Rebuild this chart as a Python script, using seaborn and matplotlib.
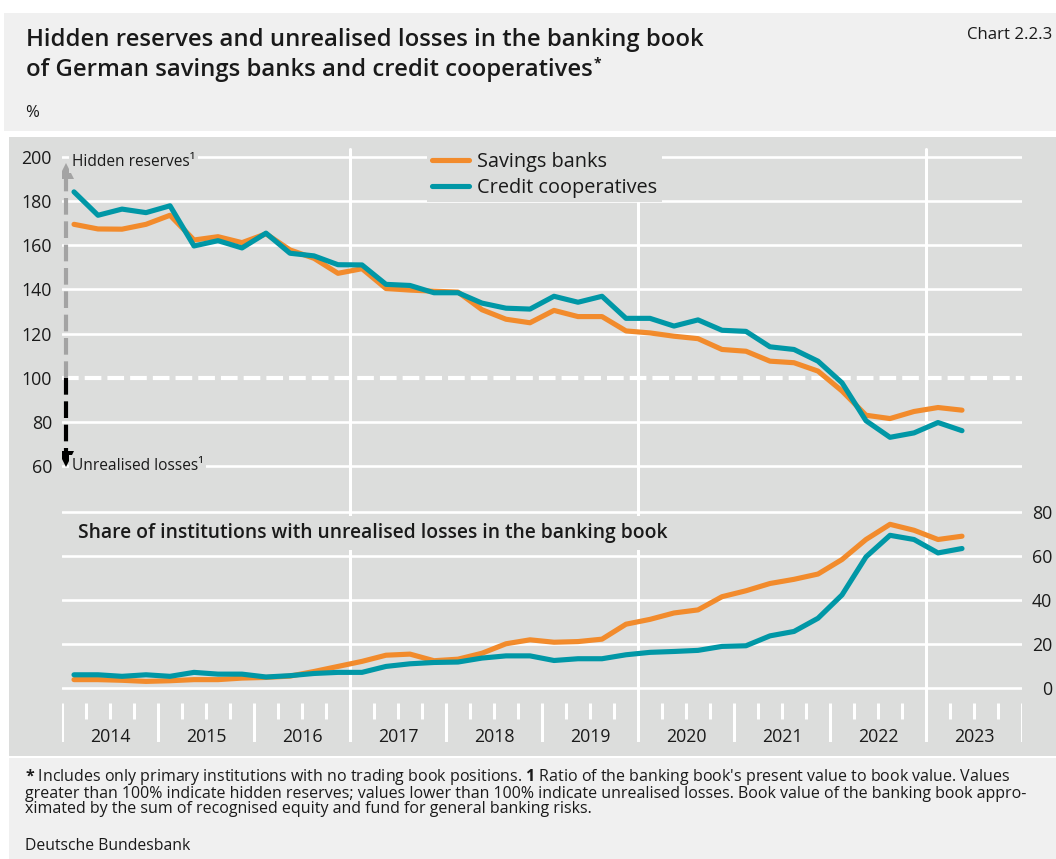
import numpy as np
import pandas as pd
import matplotlib
matplotlib.use("Agg")
import matplotlib.pyplot as plt
import matplotlib.transforms as mtransforms
import seaborn as sns
from matplotlib.patches import Rectangle
from matplotlib.lines import Line2D
from matplotlib.text import Annotation

# ---------------------------------------------------------------- data
quarters = pd.period_range("2014Q1", "2023Q2", freq="Q")

series_names = ["Savings banks", "Credit cooperatives"]

# present value / book value of the banking book, %
ratio_savings = [169.5, 167.4, 167.3, 169.5, 173.6, 162.4, 163.9, 161.2, 165.2, 157.9,
                 154.1, 147.3, 149.4, 140.4, 139.7, 139.2, 138.8, 130.8, 126.5, 124.9,
                 130.5, 127.7, 127.7, 121.2, 120.3, 118.8, 117.7, 112.8, 112.0, 107.5,
                 106.8, 103.0, 94.0, 83.0, 81.5, 84.7, 86.5, 85.3]
ratio_coops = [184.2, 173.6, 176.4, 174.8, 177.9, 159.7, 162.1, 158.8, 165.5, 156.4,
               155.2, 151.2, 151.1, 142.3, 141.8, 138.5, 138.5, 133.8, 131.5, 131.1,
               136.9, 134.2, 136.9, 126.9, 126.9, 123.4, 126.2, 121.5, 121.0, 114.0,
               112.8, 107.5, 97.7, 80.5, 73.0, 75.0, 79.7, 76.0]

# share of institutions with unrealised losses, %
share_savings = [3.8, 3.8, 3.5, 3.0, 3.3, 3.8, 3.8, 4.5, 4.8, 5.4,
                 7.5, 9.8, 12.1, 14.9, 15.4, 12.4, 13.1, 15.8, 20.1, 21.9,
                 20.8, 21.1, 22.2, 29.0, 31.2, 34.1, 35.5, 41.5, 44.2, 47.5,
                 49.4, 51.8, 58.4, 67.5, 74.4, 71.7, 67.5, 69.0]
share_coops = [6.0, 6.0, 5.3, 6.0, 5.3, 7.1, 6.3, 6.3, 5.0, 5.6,
               6.6, 7.1, 7.1, 9.8, 11.0, 11.6, 11.8, 13.6, 14.6, 14.6,
               12.5, 13.3, 13.3, 15.1, 16.2, 16.6, 17.1, 18.9, 19.2, 23.7,
               25.7, 31.7, 42.3, 59.6, 69.4, 67.5, 61.4, 63.4]

years = list(range(2014, 2024))
ratio_ticks = [60, 80, 100, 120, 140, 160, 180, 200]
share_ticks = [0, 20, 40, 60, 80]
threshold = 100

# quarters plotted at their mid-point on a continuous year axis
t = np.array([p.year + (p.quarter - 0.5) / 4 for p in quarters])

def long_form(a, b):
    return pd.DataFrame({
        "t": np.concatenate([t, t]),
        "value": np.concatenate([a, b]),
        "series": [series_names[0]] * len(t) + [series_names[1]] * len(t),
    })

df_ratio = long_form(ratio_savings, ratio_coops)
df_share = long_form(share_savings, share_coops)

# ---------------------------------------------------------------- style
sns.set_style("white")
FONT = ["Open Sans", "DejaVu Sans"]
plt.rcParams["font.family"] = FONT
plt.rcParams["mathtext.fontset"] = "custom"
plt.rcParams["mathtext.rm"] = "Open Sans"
plt.rcParams["mathtext.bf"] = "Open Sans:bold"

ORANGE = "#f28b2c"
TEAL = "#0097a6"
PANEL = "#dcdddc"
HEAD = "#f0f0f0"
INK = "#1a1a1a"
palette = {series_names[0]: ORANGE, series_names[1]: TEAL}

TICK_FS = 12.8

W, H = 1056, 859
fig = plt.figure(figsize=(W / 100, H / 100), dpi=100, facecolor="white")

def fx(px):
    return px / W

def fy(py):
    return 1 - py / H

# background blocks
fig.patches.append(Rectangle((fx(4), fy(131)), fx(1056 - 4), (131 - 13) / H,
                             transform=fig.transFigure, facecolor=HEAD, edgecolor="none", zorder=-10))
fig.patches.append(Rectangle((fx(9), fy(756)), fx(1056 - 9), (756 - 137) / H,
                             transform=fig.transFigure, facecolor=PANEL, edgecolor="none", zorder=-10))
fig.patches.append(Rectangle((fx(9), fy(859)), fx(1056 - 9), (859 - 758) / H,
                             transform=fig.transFigure, facecolor=HEAD, edgecolor="none", zorder=-10))

# ---------------------------------------------------------------- axes
L, R = 62, 1022
TOP_Y0, SPLIT_Y, BOT_Y1 = 145, 490, 742
ax_top = fig.add_axes([fx(L), fy(SPLIT_Y), (R - L) / W, (SPLIT_Y - TOP_Y0) / H])
ax_bot = fig.add_axes([fx(L), fy(BOT_Y1), (R - L) / W, (BOT_Y1 - SPLIT_Y) / H])

for ax in (ax_top, ax_bot):
    ax.set_facecolor("none")
    for s in ax.spines.values():
        s.set_visible(False)

LW = 3.7
GRID_LW = 1.9

# top panel: ratio of present value to book value
sns.lineplot(data=df_ratio, x="t", y="value", hue="series", hue_order=series_names,
             palette=palette, linewidth=LW, ax=ax_top, legend=False, zorder=5)
ax_top.set_xlim(years[0], years[-1] + 1)
ax_top.set_ylim(49.13, 205.44)
ax_top.set_yticks(ratio_ticks)
ax_top.set_xticks([])
ax_top.set_xlabel("")
ax_top.set_ylabel("")
ax_top.tick_params(axis="y", length=0, pad=7.2, labelsize=TICK_FS, labelcolor=INK)
ax_top.grid(axis="y", color="white", linewidth=GRID_LW)
ax_top.set_axisbelow(True)
for val, gl in zip(ratio_ticks, ax_top.get_ygridlines()):
    if val == threshold:
        gl.set_linewidth(3.0)
        gl.set_dashes([4.0, 1.45])

# bottom panel: share of institutions with unrealised losses
sns.lineplot(data=df_share, x="t", y="value", hue="series", hue_order=series_names,
             palette=palette, linewidth=LW, ax=ax_bot, legend=False, zorder=5)
ax_bot.set_xlim(years[0], years[-1] + 1)
ax_bot.set_ylim(-24.55, 90)
ax_bot.set_yticks(share_ticks)
ax_bot.set_xticks([])
ax_bot.yaxis.tick_right()
ax_bot.tick_params(axis="y", length=0, pad=21.6, labelsize=TICK_FS, labelcolor=INK)
for lbl in ax_bot.get_yticklabels():
    lbl.set_horizontalalignment("right")
ax_bot.grid(axis="y", color="white", linewidth=GRID_LW)
ax_bot.set_axisbelow(True)
ax_bot.set_xlabel("")
ax_bot.set_ylabel("")

# time axis: long marks at year boundaries, short marks at quarters
h_bot = BOT_Y1 - SPLIT_Y
tick_tr = mtransforms.blended_transform_factory(ax_bot.transData, ax_bot.transAxes)
year_marks = years + [years[-1] + 1]
quarter_marks = [y + q / 4 for y in years for q in (1, 2, 3)]
ax_bot.vlines(year_marks, 0, (BOT_Y1 - 703) / h_bot, transform=tick_tr,
              colors="white", linewidth=2.2, zorder=2)
ax_bot.vlines(quarter_marks, (BOT_Y1 - 719) / h_bot, (BOT_Y1 - 703) / h_bot,
              transform=tick_tr, colors="white", linewidth=2.2, zorder=2)
year_tr = mtransforms.blended_transform_factory(ax_bot.transData, fig.transFigure)
for y in years:
    ax_bot.text(y + 0.5, fy(737), str(y), transform=year_tr,
                ha="center", va="center", fontsize=TICK_FS, color=INK)

# vertical separators every three years
for y in (2017, 2020, 2023):
    ax_top.axvline(y, ymin=0, ymax=(SPLIT_Y - 149) / (SPLIT_Y - TOP_Y0),
                   color="white", lw=2.2, zorder=1)
    ax_bot.axvline(y, color="white", lw=2.2, zorder=1)

# direction arrows on the ratio axis
ax_x = years[0] + 4 / 96
ax_top.plot([ax_x, ax_x], [threshold, 190], color="#a3a3a3", lw=3.0,
            dashes=[4.0, 1.6], zorder=6, dash_capstyle="butt")
ax_top.plot([ax_x], [193.5], marker="^", markersize=12, color="#a3a3a3",
            markeredgewidth=0, zorder=6)
ax_top.plot([ax_x, ax_x], [threshold, 66], color="black", lw=3.0,
            dashes=[4.0, 1.6], zorder=6, dash_capstyle="butt")
ax_top.plot([ax_x], [63.3], marker="v", markersize=12, color="black",
            markeredgewidth=0, zorder=6)

box = dict(facecolor=PANEL, edgecolor="none", pad=2.0)
ax_top.text(fx(72), fy(162), "Hidden reserves¹", transform=fig.transFigure,
            ha="left", va="center", fontsize=11.2, color=INK, bbox=box, zorder=7)
ax_top.text(fx(72), fy(466), "Unrealised losses¹", transform=fig.transFigure,
            ha="left", va="center", fontsize=11.2, color=INK, bbox=box, zorder=7)
ax_bot.text(fx(78), fy(533), "Share of institutions with unrealised losses in the banking book",
            transform=fig.transFigure, ha="left", va="center", fontsize=13.9,
            fontweight="semibold", color=INK,
            bbox=dict(facecolor=PANEL, edgecolor="none", pad=5.0), zorder=7)

handles = [Line2D([], [], color=palette[n], lw=LW) for n in series_names]
leg = ax_top.legend(handles, series_names, loc="upper left",
                    bbox_to_anchor=(fx(427), fy(147)), bbox_transform=fig.transFigure,
                    frameon=True, facecolor=PANEL, edgecolor="none", framealpha=1,
                    fancybox=False, fontsize=14.3, handlelength=1.85, handletextpad=0.4,
                    labelspacing=0.28, borderpad=0.25, borderaxespad=0)
for txt in leg.get_texts():
    txt.set_color(INK)
    txt.set_fontweight("medium")
leg.set_zorder(8)

# ---------------------------------------------------------------- header
fig.text(fx(26), fy(40), "Hidden reserves and unrealised losses in the banking book",
         ha="left", va="center", fontsize=17.2, fontweight="semibold", color=INK)
t2 = fig.text(fx(26), fy(70), "of German savings banks and credit cooperatives",
              ha="left", va="center", fontsize=17.2, fontweight="semibold", color=INK)
fig.add_artist(Annotation("*", xy=(1, 1), xycoords=t2,
                          xytext=(0.5, 1), textcoords="offset points",
                          ha="left", va="top", fontsize=10, color=INK, fontweight="bold"))
fig.text(fx(1052), fy(35), "Chart 2.2.3", ha="right", va="center", fontsize=12.1, color=INK)
fig.text(fx(25), fy(113), "%", ha="left", va="center", fontsize=12, color=INK)

# ---------------------------------------------------------------- footnotes
foot = [
    r"$\mathbf{*}$ Includes only primary institutions with no trading book positions. $\mathbf{1}$ Ratio of the banking book's present value to book value. Values",
    "greater than 100% indicate hidden reserves; values lower than 100% indicate unrealised losses. Book value of the banking book appro-",
    "ximated by the sum of recognised equity and fund for general banking risks.",
]
fig.text(fx(25), fy(767), "\n".join(foot), ha="left", va="top", fontsize=11.5,
         color=INK, linespacing=0.9)
fig.text(fx(25), fy(846), "Deutsche Bundesbank", ha="left", va="center", fontsize=11.3, color=INK)

fig.savefig("out.png", dpi=100, facecolor="white")
